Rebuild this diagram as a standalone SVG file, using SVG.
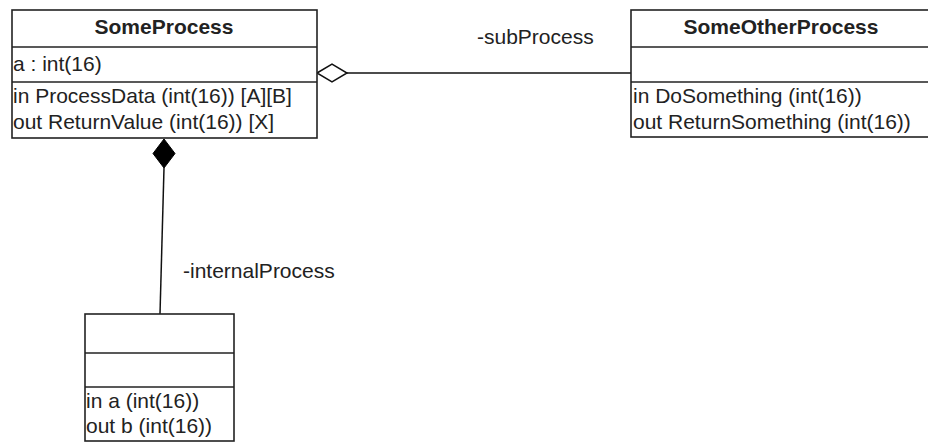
<svg xmlns="http://www.w3.org/2000/svg" width="928" height="443" viewBox="0 0 928 443">
<style>
.box{fill:#fff;stroke:#222;stroke-width:1.6}
.div{stroke:#222;stroke-width:1.6}
.t{font-family:"Liberation Sans",Arial,sans-serif;font-size:21px;fill:#222}
.b{font-weight:bold;text-anchor:middle}
.ln{stroke:#111;stroke-width:1.5;fill:none}
</style>
<rect width="928" height="443" fill="#fff"/>
<g id="connectors">
<line class="ln" x1="347" y1="73" x2="631" y2="73"/>
<polygon points="317,73 332,64 347,73 332,82" fill="#fff" stroke="#111" stroke-width="1.5"/>
<line class="ln" x1="164" y1="168" x2="160" y2="314"/>
<polygon points="164,139 175,153.5 164,168 153,153.5" fill="#000" stroke="#000" stroke-width="1"/>
<text class="t" x="477" y="44">-subProcess</text>
<text class="t" x="183" y="278">-internalProcess</text>
</g>
<g id="SomeProcess">
<rect class="box" x="12" y="10" width="305" height="128"/>
<line class="div" x1="12" y1="47" x2="317" y2="47"/>
<line class="div" x1="12" y1="82" x2="317" y2="82"/>
<text class="t b" x="164" y="34">SomeProcess</text>
<text class="t" x="13" y="71">a : int(16)</text>
<text class="t" x="13" y="103">in ProcessData (int(16)) [A][B]</text>
<text class="t" x="13" y="129">out ReturnValue (int(16)) [X]</text>
</g>
<g id="SomeOtherProcess">
<rect class="box" x="631" y="10" width="310" height="127"/>
<line class="div" x1="631" y1="47" x2="941" y2="47"/>
<line class="div" x1="631" y1="82" x2="941" y2="82"/>
<text class="t b" x="781" y="34">SomeOtherProcess</text>
<text class="t" x="633" y="103">in DoSomething (int(16))</text>
<text class="t" x="633" y="129">out ReturnSomething (int(16))</text>
</g>
<g id="InternalProcess">
<rect class="box" x="85" y="314" width="149" height="127"/>
<line class="div" x1="85" y1="353" x2="234" y2="353"/>
<line class="div" x1="85" y1="387" x2="234" y2="387"/>
<text class="t" x="86" y="408">in a (int(16))</text>
<text class="t" x="86" y="433">out b (int(16))</text>
</g>
</svg>
